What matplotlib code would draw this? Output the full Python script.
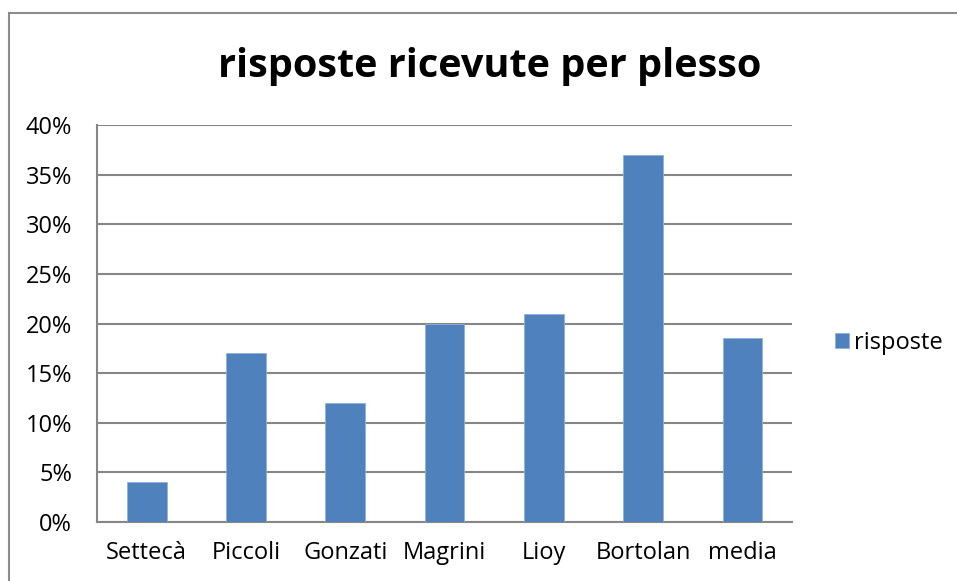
import matplotlib.pyplot as plt
from matplotlib.patches import Rectangle
from matplotlib.ticker import FuncFormatter

plessi = ['Settecà', 'Piccoli', 'Gonzati', 'Magrini', 'Lioy', 'Bortolan', 'media']
risposte = [4, 17, 12, 20, 21, 37, 18.5]
y_ticks = [0, 5, 10, 15, 20, 25, 30, 35, 40]

plt.rcParams['font.family'] = ['Open Sans', 'DejaVu Sans']

fig = plt.figure(figsize=(9.57, 5.81), dpi=100)
ax = fig.add_axes([0.1014, 0.1015, 0.7262, 0.6833])

# chart frame (only top and left edges fall inside the picture)
fig.patches.append(Rectangle((9 / 957, -0.1), 1.2, 1 - 13 / 581 + 0.1,
                             transform=fig.transFigure, fill=False,
                             edgecolor='#8c8c8c', linewidth=1.5))

ax.bar(range(len(plessi)), risposte, width=0.4, color='#4f81bd',
       edgecolor='#8fb0dc', linewidth=0.6, zorder=3, label='risposte')

ax.set_xlim(-0.5, len(plessi) - 0.5)
ax.set_ylim(0, 40)
ax.set_yticks(y_ticks)
ax.yaxis.set_major_formatter(FuncFormatter(lambda v, p: f'{v:.0f}%'))
ax.set_xticks(range(len(plessi)))
ax.set_xticklabels(plessi)
ax.tick_params(axis='both', length=0, labelsize=17, colors='black')
ax.tick_params(axis='y', pad=18)
ax.tick_params(axis='x', pad=14)
ax.yaxis.grid(True, color='#868686', linewidth=1.5, zorder=0)

for s in ['top', 'right']:
    ax.spines[s].set_visible(False)
for s in ['left', 'bottom']:
    ax.spines[s].set_color('#868686')
    ax.spines[s].set_linewidth(1.5)

fig.text(490 / 957, 1 - 67 / 581, 'risposte ricevute per plesso',
         ha='center', va='center', fontsize=28.5, fontweight='bold')

ax.legend(loc='center left', bbox_to_anchor=(835 / 957, 1 - 343 / 581),
          bbox_transform=fig.transFigure, frameon=False, fontsize=17,
          handlelength=0.6, handleheight=0.6, handletextpad=0.2,
          borderpad=0, borderaxespad=0)

fig.savefig('out.png', dpi=100)
